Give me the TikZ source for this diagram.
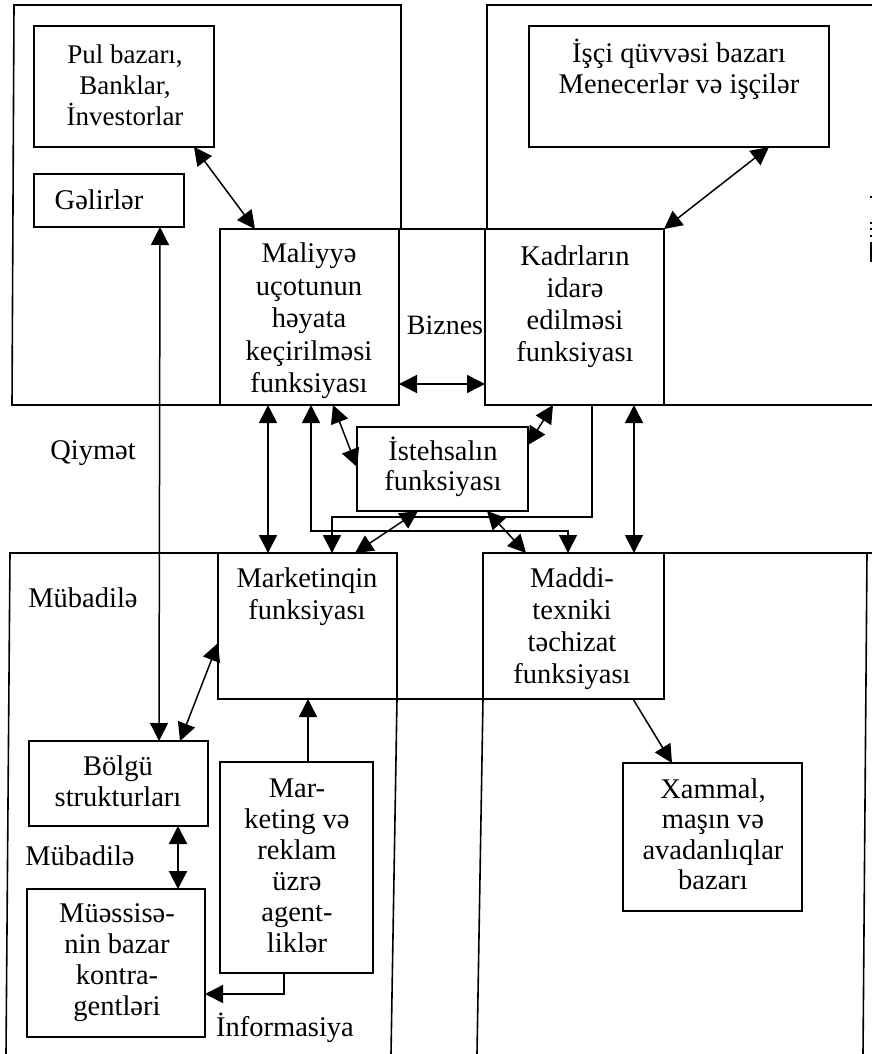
\documentclass[tikz,border=0pt]{standalone}
\usepackage{fontspec}
\setmainfont{Liberation Serif}
\usetikzlibrary{arrows.meta,fit}
\tikzset{
  boxn/.style={draw=black,line width=1.6pt,inner sep=0pt,outer sep=0pt,rectangle},
  frameline/.style={draw=black,line width=1.6pt,line join=miter},
  txt/.style={font=\fontsize{28.5}{32}\selectfont,align=center,inner sep=0pt,text=black},
  conn/.style={draw=black,line width=1.5pt,{Triangle[length=18pt,width=18pt]}-{Triangle[length=18pt,width=18pt]}},
  connone/.style={draw=black,line width=1.5pt,-{Triangle[length=18pt,width=18pt]}},
}
\begin{document}
\begin{tikzpicture}[x=1pt,y=-1pt]
\useasboundingbox (0,0) rectangle (872,1054);
% boxes
\node[boxn,fit={(34,26)(214,147)}] (pul) {};
\node[boxn,fit={(529,26)(829,147)}] (isci) {};
\node[boxn,fit={(34,174)(184,227)}] (gelir) {};
\node[boxn,fit={(220,229)(399,405)}] (mal) {};
\node[boxn,fit={(485,229)(664,405)}] (kadr) {};
\node[boxn,fit={(357,427)(528,511)}] (ist) {};
\node[boxn,fit={(218,553)(397,699)}] (mkt) {};
\node[boxn,fit={(483,553)(664,699)}] (mad) {};
\node[boxn,fit={(29,741)(208,826)}] (bol) {};
\node[boxn,fit={(27,889)(205,1037)}] (mue) {};
\node[boxn,fit={(220,762)(373,973)}] (agt) {};
\node[boxn,fit={(623,763)(802,911)}] (xam) {};
% frames
\draw[frameline] (mal.south west) -- (12,405) -- (14,5) -- (401,5) -- (401,229);
\draw[frameline] (487,229) -- (487,5) -- (872,5);
\draw[frameline] (kadr.south east) -- (872,405);
\draw[frameline] (kadr.north west) -- (mal.north east);
\draw[frameline] (mkt.north west) -- (10,553) -- (6,1054);
\draw[frameline] (mkt.south east) -- (391,1054);
\draw[frameline] (mkt.south east) -- (mad.south west);
\draw[frameline] (mad.north east) -- (872,553);
\draw[frameline] (867,553) -- (863,1054);
\draw[frameline] (mad.south west) -- (477,1054);
% specks at the right edge
\fill (870,196) rectangle (872,198);
\fill (870,222) rectangle (872,224);
\fill (870,228) rectangle (872,230);
\fill (870,235) rectangle (872,237);
\fill (870,242) rectangle (872,262);
% text
\node[txt,font=\fontsize{27}{31}\selectfont] (tpul) at (125,85) {Pul bazarı,\\Banklar,\\İnvestorlar};
\node[txt,font=\fontsize{28.5}{31}\selectfont] (tisci) at (679,69) {İşçi qüvvəsi bazarı\\Menecerlər və işçilər};
\node[txt] (tgel) at (99,200) {Gəlirlər};
\node[txt,font=\fontsize{28.5}{32.5}\selectfont] (tmal) at (309,321) {Maliyyə\\uçotunun\\həyata\\keçirilməsi\\funksiyası};
\node[txt] (tkad) at (575,307) {Kadrların\\idarə\\edilməsi\\funksiyası};
\node[txt,font=\fontsize{28}{32}\selectfont] (tbiz) at (445,325) {Biznes};
\node[txt] (tqiy) at (93,453) {Qiymət};
\node[txt] (tmub) at (83,598) {Mübadilə};
\node[txt,font=\fontsize{28.5}{30}\selectfont] (tist) at (443,467) {İstehsalın\\funksiyası};
\node[txt] (tmkt) at (307,597) {Marketinqin\\funksiyası};
\node[txt] (tmad) at (572,629) {Maddi-\\texniki\\təchizat\\funksiyası};
\node[txt,font=\fontsize{28.5}{31}\selectfont] (tbol) at (118,781) {Bölgü\\strukturları};
\node[txt] (tmub2) at (80,856) {Mübadilə};
\node[txt,font=\fontsize{28.5}{31}\selectfont] (tmue) at (117,963) {Müəssisə-\\nin bazar\\kontra-\\gentləri};
\node[txt,font=\fontsize{28.5}{31}\selectfont] (tagt) at (297,866) {Mar-\\keting və\\reklam\\üzrə\\agent-\\liklər};
\node[txt] (tinf) at (285,1028) {İnformasiya};
\node[txt,font=\fontsize{28.5}{30.5}\selectfont] (txam) at (713,834) {Xammal,\\maşın və\\avadanlıqlar\\bazarı};
% connectors
\draw[conn] ([xshift=-20pt]pul.south east) -- ([xshift=35pt]mal.north west);
\draw[conn] ([xshift=-60pt]isci.south east) -- (kadr.north east);
\draw[conn] ([xshift=126pt]gelir.south west) -- ([xshift=130pt]bol.north west);
\draw[conn] ([yshift=56pt]mkt.south west) -- ([xshift=151pt]bol.north west);
\draw[conn,line width=2.2pt] ([xshift=149pt]bol.south west) -- ([xshift=151pt]mue.north west);
\draw[connone] ([xshift=88pt]agt.north west) -- ([xshift=90pt]mkt.south west);
\draw[connone] ([xshift=64pt]agt.south west) |- ([yshift=-31pt]mue.east);
\draw[conn] ([yshift=21pt]mal.south east) -- ([yshift=21pt]kadr.south west);
\draw[conn] ([xshift=48pt]mal.south west) -- ([xshift=50pt]mkt.north west);
\draw[conn] ([xshift=149pt]kadr.south west) -- ([xshift=151pt]mad.north west);
\draw[conn] ([xshift=113pt]mal.south west) -- ([yshift=2pt]ist.west);
\draw[conn] ([xshift=68pt]kadr.south west) -- ([yshift=-18pt]ist.north east);
\draw[conn] ([xshift=61pt]ist.south west) -- ([xshift=137pt]mkt.north west);
\draw[conn] ([xshift=130pt]ist.south west) -- ([xshift=43pt]mad.north west);
\draw[connone] ([xshift=107pt]kadr.south west) -- ++(0,112) -| ([xshift=114pt]mkt.north west);
\draw[conn] ([xshift=91pt]mal.south west) -- ++(0,126) -| ([xshift=85pt]mad.north west);
\draw[connone] ([xshift=150pt]mad.south west) -- ([xshift=49pt]xam.north west);
\end{tikzpicture}
\end{document}
